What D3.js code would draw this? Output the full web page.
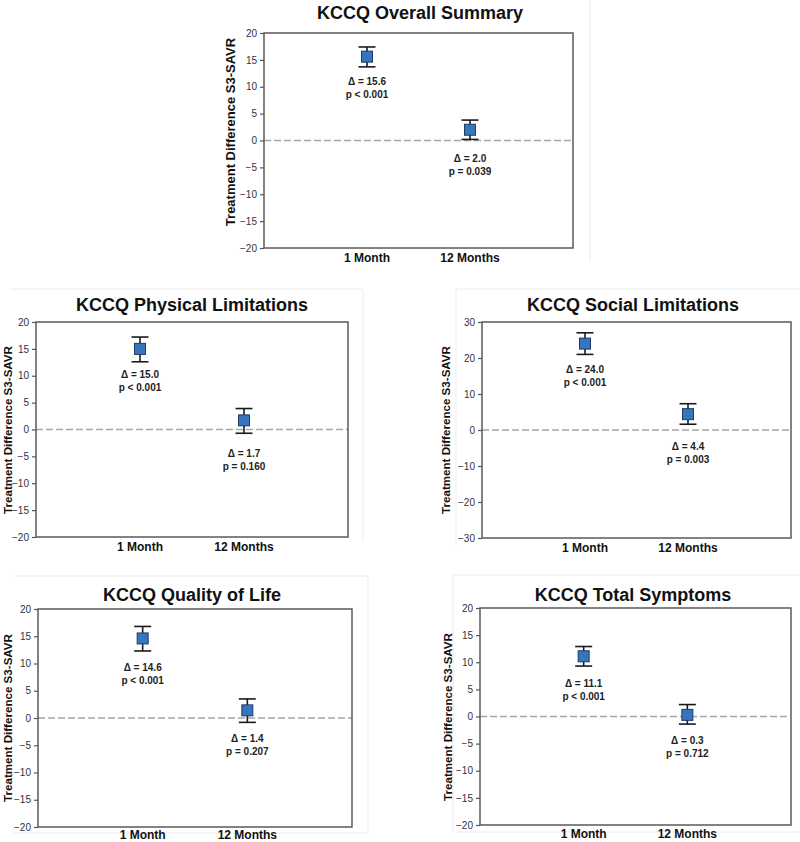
<!DOCTYPE html>
<html>
<head>
<meta charset="utf-8">
<script src="https://cdn.jsdelivr.net/npm/d3@7"></script>
<style>
  html, body { margin: 0; padding: 0; background: #ffffff; }
  svg { display: block; font-family: "Liberation Sans", Arial, sans-serif; }
</style>
</head>
<body>
<svg id="chart" width="800" height="842"></svg>
<script>
// ---------- DATA ----------
const panelTitles = [
  "KCCQ Overall Summary",
  "KCCQ Physical Limitations",
  "KCCQ Social Limitations",
  "KCCQ Quality of Life",
  "KCCQ Total Symptoms"
];
const categories = ["1 Month", "12 Months"];
const estimates = [
  [15.6, 2.0],
  [15.0, 1.7],
  [24.0, 4.4],
  [14.6, 1.4],
  [11.1, 0.3]
];
const upperCI = [
  [17.4, 3.8],
  [17.2, 3.9],
  [27.0, 7.3],
  [16.8, 3.5],
  [12.9, 2.2]
];
const lowerCI = [
  [13.7, 0.2],
  [12.6, -0.7],
  [21.0, 1.6],
  [12.3, -0.8],
  [9.3, -1.4]
];
const deltaLabels = [
  ["Δ = 15.6", "Δ = 2.0"],
  ["Δ = 15.0", "Δ = 1.7"],
  ["Δ = 24.0", "Δ = 4.4"],
  ["Δ = 14.6", "Δ = 1.4"],
  ["Δ = 11.1", "Δ = 0.3"]
];
const pLabels = [
  ["p < 0.001", "p = 0.039"],
  ["p < 0.001", "p = 0.160"],
  ["p < 0.001", "p = 0.003"],
  ["p < 0.001", "p = 0.207"],
  ["p < 0.001", "p = 0.712"]
];
const yDomains = [[-20, 20], [-20, 20], [-30, 30], [-20, 20], [-20, 20]];
const yTickValues = [
  [-20, -15, -10, -5, 0, 5, 10, 15, 20],
  [-20, -15, -10, -5, 0, 5, 10, 15, 20],
  [-30, -20, -10, 0, 10, 20, 30],
  [-20, -15, -10, -5, 0, 5, 10, 15, 20],
  [-20, -15, -10, -5, 0, 5, 10, 15, 20]
];
const yAxisTitle = "Treatment Difference S3-SAVR";

// ---------- LAYOUT (positions / sizes) ----------
const layout = [
  { left: 264, top: 33, right: 573, bottom: 248, titleX: 420, titleY: 13, ylabX: 230, ylabY: 132, ylabSize: 13,
    catDy: 10, labOff: [15, 19],
    frame: [[590, 0, 590, 262]] },
  { left: 36, top: 322, right: 348, bottom: 537, titleX: 192, titleY: 305, ylabX: 7, ylabY: 430, ylabSize: 11.6,
    catDy: 10, labOff: [13, 20],
    frame: [[10, 289, 363, 289], [363, 289, 363, 542]] },
  { left: 482, top: 322, right: 791, bottom: 538, titleX: 633, titleY: 305, ylabX: 445, ylabY: 430, ylabSize: 11.6,
    catDy: 10, labOff: [15, 22],
    frame: [[456, 289, 800, 289], [456, 289, 456, 545]] },
  { left: 38, top: 609, right: 352, bottom: 827, titleX: 192, titleY: 595, ylabX: 7, ylabY: 718, ylabSize: 11.6,
    catDy: 8, labOff: [17, 16],
    frame: [[13, 576, 368, 576], [368, 576, 368, 833], [13, 833, 368, 833]] },
  { left: 480, top: 608, right: 791, bottom: 825, titleX: 633, titleY: 595, ylabX: 447, ylabY: 717, ylabSize: 11.6,
    catDy: 9, labOff: [17, 16],
    frame: [[453, 575, 800, 575], [453, 575, 453, 832], [453, 832, 800, 832]] }
];

// ---------- DRAW ----------
const svg = d3.select("#chart");

panelTitles.forEach((title, i) => {
  const L = layout[i];
  const g = svg.append("g");

  // faint panel frame lines (from the original composite figure)
  L.frame.forEach(f => {
    g.append("line")
      .attr("x1", f[0]).attr("y1", f[1]).attr("x2", f[2]).attr("y2", f[3])
      .attr("stroke", "#ececec").attr("stroke-width", 1);
  });

  const x = d3.scalePoint().domain(categories).range([L.left, L.right]).padding(1);
  const y = d3.scaleLinear().domain(yDomains[i]).range([L.bottom, L.top]);

  // title
  g.append("text")
    .attr("x", L.titleX).attr("y", L.titleY)
    .attr("text-anchor", "middle").attr("dominant-baseline", "central")
    .attr("font-size", 18).attr("font-weight", "bold").attr("fill", "#111")
    .text(title);

  // zero reference line
  g.append("line")
    .attr("x1", L.left).attr("x2", L.right)
    .attr("y1", y(0)).attr("y2", y(0))
    .attr("stroke", "#a8a8a8").attr("stroke-width", 1.3)
    .attr("stroke-dasharray", "7,3");

  // y axis
  const yAxis = d3.axisLeft(y).tickValues(yTickValues[i]).tickSize(4).tickPadding(3).tickFormat(d3.format("d"));
  const ya = g.append("g").attr("transform", `translate(${L.left},0)`).call(yAxis);
  ya.select(".domain").remove();
  ya.selectAll(".tick line").attr("stroke", "#555").attr("stroke-width", 1.2);
  ya.selectAll(".tick text").attr("font-size", 10).attr("fill", "#2f3340")
    .attr("font-family", "'Liberation Sans', Arial, sans-serif");

  // plot frame
  g.append("rect")
    .attr("x", L.left).attr("y", L.top)
    .attr("width", L.right - L.left).attr("height", L.bottom - L.top)
    .attr("fill", "none").attr("stroke", "#5a5a5a").attr("stroke-width", 1.5);

  // y axis title
  g.append("text")
    .attr("transform", `translate(${L.ylabX},${L.ylabY}) rotate(-90)`)
    .attr("text-anchor", "middle").attr("dominant-baseline", "central")
    .attr("font-size", L.ylabSize).attr("font-weight", "bold").attr("fill", "#111")
    .text(yAxisTitle);

  // category labels
  g.selectAll(".cat").data(categories).enter().append("text")
    .attr("x", d => x(d)).attr("y", L.bottom + L.catDy)
    .attr("text-anchor", "middle").attr("dominant-baseline", "central")
    .attr("font-size", 12).attr("font-weight", "bold").attr("fill", "#111")
    .text(d => d);

  // points + error bars
  const capW = 17, mk = 11;
  categories.forEach((c, j) => {
    const cx = x(c);
    const yu = y(upperCI[i][j]), yl = y(lowerCI[i][j]), ym = y(estimates[i][j]);
    g.append("line").attr("x1", cx).attr("x2", cx).attr("y1", yu).attr("y2", yl)
      .attr("stroke", "#1a1a1a").attr("stroke-width", 1.6);
    g.append("line").attr("x1", cx - capW / 2).attr("x2", cx + capW / 2).attr("y1", yu).attr("y2", yu)
      .attr("stroke", "#1a1a1a").attr("stroke-width", 1.6);
    g.append("line").attr("x1", cx - capW / 2).attr("x2", cx + capW / 2).attr("y1", yl).attr("y2", yl)
      .attr("stroke", "#1a1a1a").attr("stroke-width", 1.6);
    g.append("rect")
      .attr("x", cx - mk / 2).attr("y", ym - mk / 2).attr("width", mk).attr("height", mk)
      .attr("fill", "#3775bf").attr("stroke", "#1d3c63").attr("stroke-width", 1);

    const ty = yl + L.labOff[j];
    g.append("text")
      .attr("x", cx).attr("y", ty)
      .attr("text-anchor", "middle").attr("dominant-baseline", "central")
      .attr("font-size", 10).attr("font-weight", "bold").attr("fill", "#222")
      .text(deltaLabels[i][j]);
    g.append("text")
      .attr("x", cx).attr("y", ty + 13)
      .attr("text-anchor", "middle").attr("dominant-baseline", "central")
      .attr("font-size", 10).attr("font-weight", "bold").attr("fill", "#222")
      .text(pLabels[i][j]);
  });
});
</script>
</body>
</html>
